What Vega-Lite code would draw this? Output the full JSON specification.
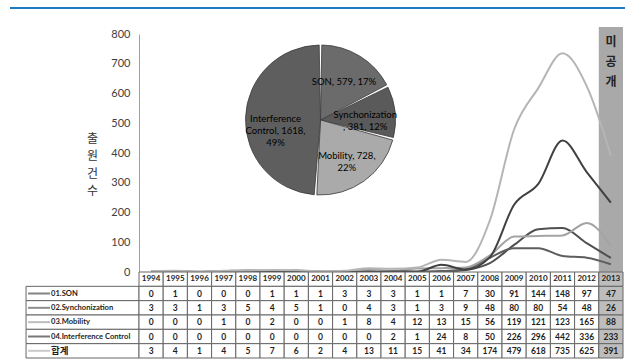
{
  "$schema": "https://vega.github.io/schema/vega-lite/v6.json",
  "padding": {"left": 10, "top": 5, "right": 5, "bottom": 0},
  "autosize": {"type": "pad"},
  "background": "white",
  "config": {
    "view": {"stroke": null},
    "font": "Lato"
  },
  "datasets": {
    "counts": [
      {"year": "1994", "series": "01.SON", "n": 0}, {"year": "1995", "series": "01.SON", "n": 1}, {"year": "1996", "series": "01.SON", "n": 0}, {"year": "1997", "series": "01.SON", "n": 0}, {"year": "1998", "series": "01.SON", "n": 0},
      {"year": "1999", "series": "01.SON", "n": 1}, {"year": "2000", "series": "01.SON", "n": 1}, {"year": "2001", "series": "01.SON", "n": 1}, {"year": "2002", "series": "01.SON", "n": 3}, {"year": "2003", "series": "01.SON", "n": 3},
      {"year": "2004", "series": "01.SON", "n": 3}, {"year": "2005", "series": "01.SON", "n": 1}, {"year": "2006", "series": "01.SON", "n": 1}, {"year": "2007", "series": "01.SON", "n": 7}, {"year": "2008", "series": "01.SON", "n": 30},
      {"year": "2009", "series": "01.SON", "n": 91}, {"year": "2010", "series": "01.SON", "n": 144}, {"year": "2011", "series": "01.SON", "n": 148}, {"year": "2012", "series": "01.SON", "n": 97}, {"year": "2013", "series": "01.SON", "n": 47},
      {"year": "1994", "series": "02.Synchonization", "n": 3}, {"year": "1995", "series": "02.Synchonization", "n": 3}, {"year": "1996", "series": "02.Synchonization", "n": 1}, {"year": "1997", "series": "02.Synchonization", "n": 3}, {"year": "1998", "series": "02.Synchonization", "n": 5},
      {"year": "1999", "series": "02.Synchonization", "n": 4}, {"year": "2000", "series": "02.Synchonization", "n": 5}, {"year": "2001", "series": "02.Synchonization", "n": 1}, {"year": "2002", "series": "02.Synchonization", "n": 0}, {"year": "2003", "series": "02.Synchonization", "n": 4},
      {"year": "2004", "series": "02.Synchonization", "n": 3}, {"year": "2005", "series": "02.Synchonization", "n": 1}, {"year": "2006", "series": "02.Synchonization", "n": 3}, {"year": "2007", "series": "02.Synchonization", "n": 9}, {"year": "2008", "series": "02.Synchonization", "n": 48},
      {"year": "2009", "series": "02.Synchonization", "n": 80}, {"year": "2010", "series": "02.Synchonization", "n": 80}, {"year": "2011", "series": "02.Synchonization", "n": 54}, {"year": "2012", "series": "02.Synchonization", "n": 48}, {"year": "2013", "series": "02.Synchonization", "n": 26},
      {"year": "1994", "series": "03.Mobility", "n": 0}, {"year": "1995", "series": "03.Mobility", "n": 0}, {"year": "1996", "series": "03.Mobility", "n": 0}, {"year": "1997", "series": "03.Mobility", "n": 1}, {"year": "1998", "series": "03.Mobility", "n": 0},
      {"year": "1999", "series": "03.Mobility", "n": 2}, {"year": "2000", "series": "03.Mobility", "n": 0}, {"year": "2001", "series": "03.Mobility", "n": 0}, {"year": "2002", "series": "03.Mobility", "n": 1}, {"year": "2003", "series": "03.Mobility", "n": 8},
      {"year": "2004", "series": "03.Mobility", "n": 4}, {"year": "2005", "series": "03.Mobility", "n": 12}, {"year": "2006", "series": "03.Mobility", "n": 13}, {"year": "2007", "series": "03.Mobility", "n": 15}, {"year": "2008", "series": "03.Mobility", "n": 56},
      {"year": "2009", "series": "03.Mobility", "n": 119}, {"year": "2010", "series": "03.Mobility", "n": 121}, {"year": "2011", "series": "03.Mobility", "n": 123}, {"year": "2012", "series": "03.Mobility", "n": 165}, {"year": "2013", "series": "03.Mobility", "n": 88},
      {"year": "1994", "series": "04.Interference Control", "n": 0}, {"year": "1995", "series": "04.Interference Control", "n": 0}, {"year": "1996", "series": "04.Interference Control", "n": 0}, {"year": "1997", "series": "04.Interference Control", "n": 0}, {"year": "1998", "series": "04.Interference Control", "n": 0},
      {"year": "1999", "series": "04.Interference Control", "n": 0}, {"year": "2000", "series": "04.Interference Control", "n": 0}, {"year": "2001", "series": "04.Interference Control", "n": 0}, {"year": "2002", "series": "04.Interference Control", "n": 0}, {"year": "2003", "series": "04.Interference Control", "n": 0},
      {"year": "2004", "series": "04.Interference Control", "n": 2}, {"year": "2005", "series": "04.Interference Control", "n": 1}, {"year": "2006", "series": "04.Interference Control", "n": 24}, {"year": "2007", "series": "04.Interference Control", "n": 8}, {"year": "2008", "series": "04.Interference Control", "n": 50},
      {"year": "2009", "series": "04.Interference Control", "n": 226}, {"year": "2010", "series": "04.Interference Control", "n": 296}, {"year": "2011", "series": "04.Interference Control", "n": 442}, {"year": "2012", "series": "04.Interference Control", "n": 336}, {"year": "2013", "series": "04.Interference Control", "n": 233},
      {"year": "1994", "series": "합계", "n": 3}, {"year": "1995", "series": "합계", "n": 4}, {"year": "1996", "series": "합계", "n": 1}, {"year": "1997", "series": "합계", "n": 4}, {"year": "1998", "series": "합계", "n": 5},
      {"year": "1999", "series": "합계", "n": 7}, {"year": "2000", "series": "합계", "n": 6}, {"year": "2001", "series": "합계", "n": 2}, {"year": "2002", "series": "합계", "n": 4}, {"year": "2003", "series": "합계", "n": 13},
      {"year": "2004", "series": "합계", "n": 11}, {"year": "2005", "series": "합계", "n": 15}, {"year": "2006", "series": "합계", "n": 41}, {"year": "2007", "series": "합계", "n": 34}, {"year": "2008", "series": "합계", "n": 174},
      {"year": "2009", "series": "합계", "n": 479}, {"year": "2010", "series": "합계", "n": 618}, {"year": "2011", "series": "합계", "n": 735}, {"year": "2012", "series": "합계", "n": 625}, {"year": "2013", "series": "합계", "n": 391}
    ],
    "years": [
      {"year": "1994"}, {"year": "1995"}, {"year": "1996"}, {"year": "1997"}, {"year": "1998"}, {"year": "1999"}, {"year": "2000"},
      {"year": "2001"}, {"year": "2002"}, {"year": "2003"}, {"year": "2004"}, {"year": "2005"}, {"year": "2006"}, {"year": "2007"},
      {"year": "2008"}, {"year": "2009"}, {"year": "2010"}, {"year": "2011"}, {"year": "2012"}, {"year": "2013"}
    ],
    "seriesNames": [
      {"series": "01.SON", "label": "01.SON"},
      {"series": "02.Synchonization", "label": "02.Synchonization"},
      {"series": "03.Mobility", "label": "03.Mobility"},
      {"series": "04.Interference Control", "label": "04.Interference Control"}
    ],
    "totalName": [
      {"series": "합계", "label": "합계"}
    ],
    "share": [
      {"topic": "SON", "n": 579, "k": 1, "label": "SON, 579, 17%"},
      {"topic": "Synchonization", "n": 381, "k": 2, "label": ["Synchonization", ", 381, 12%"]},
      {"topic": "Mobility", "n": 728, "k": 3, "label": ["Mobility, 728,", "22%"]},
      {"topic": "Interference Control", "n": 1618, "k": 4, "label": ["Interference", "Control,  1618,", "49%"]}
    ]
  },
  "vconcat": [
    {
      "width": 615,
      "height": 2,
      "view": {"fill": "#1a7bc1", "stroke": null},
      "data": {"values": [{}]},
      "mark": {"type": "point", "opacity": 0},
      "encoding": {}
    },
    {
      "columns": 2,
      "spacing": 0,
      "bounds": "flush",
      "concat": [
        {
          "width": 129,
          "height": 238,
          "data": {"values": [{}]},
          "mark": {"type": "point", "opacity": 0},
          "encoding": {}
        },
        {
          "width": 484,
          "height": 238,
          "resolve": {"axis": {"y": "independent"}},
          "encoding": {
            "x": {
              "field": "year",
              "type": "ordinal",
              "scale": {
                "type": "band",
                "domain": ["1994", "1995", "1996", "1997", "1998", "1999", "2000", "2001", "2002", "2003", "2004", "2005", "2006", "2007", "2008", "2009", "2010", "2011", "2012", "2013"],
                "paddingInner": 0,
                "paddingOuter": 0
              },
              "axis": null
            }
          },
          "layer": [
            {
              "data": {"values": [{"year": "2013"}]},
              "mark": {"type": "rect", "color": "#a9a9a9", "y": -7, "y2": 238}
            },
            {
              "data": {"name": "counts"},
              "mark": {"type": "line", "interpolate": "monotone"},
              "encoding": {
                "y": {
                  "field": "n",
                  "type": "quantitative",
                  "scale": {"domain": [0, 800], "nice": false},
                  "axis": {
                    "orient": "left",
                    "values": [0, 200, 400, 600, 800],
                    "labelOverlap": false,
                    "ticks": false,
                    "grid": false,
                    "labelPadding": 9,
                    "labelFont": "Lato",
                    "labelFontSize": 11,
                    "labelColor": "#404040",
                    "domainColor": "#a0a0a0",
                    "title": ["출", "원", "건", "수"],
                    "titleAngle": 0,
                    "titleX": -47,
                    "titleY": 99,
                    "titleAlign": "center",
                    "titleBaseline": "top",
                    "titleFont": "Noto Sans CJK KR",
                    "titleFontSize": 12,
                    "titleFontWeight": "normal",
                    "titleLineHeight": 17.5,
                    "titleColor": "#333333"
                  }
                },
                "stroke": {
                  "field": "series",
                  "type": "nominal",
                  "scale": {
                    "domain": ["01.SON", "02.Synchonization", "03.Mobility", "04.Interference Control", "합계"],
                    "range": ["#505050", "#5e5e5e", "#a3a3a3", "#404040", "#b5b5b5"]
                  },
                  "legend": null
                },
                "strokeWidth": {
                  "field": "series",
                  "type": "nominal",
                  "scale": {
                    "domain": ["01.SON", "02.Synchonization", "03.Mobility", "04.Interference Control", "합계"],
                    "range": [2, 2, 2, 2.5, 2.5]
                  },
                  "legend": null
                }
              }
            },
            {
              "data": {"name": "counts"},
              "mark": {"type": "point", "opacity": 0},
              "encoding": {
                "y": {
                  "field": "n",
                  "type": "quantitative",
                  "axis": {
                    "orient": "left",
                    "values": [100, 300, 500, 700],
                    "labelOverlap": false,
                    "ticks": false,
                    "grid": false,
                    "domain": false,
                    "labelPadding": 9,
                    "labelFont": "Lato",
                    "labelFontSize": 11,
                    "labelColor": "#404040",
                    "title": null
                  }
                }
              }
            },
            {
              "data": {"values": [{"year": "2013"}]},
              "mark": {"type": "text", "text": ["미", "공", "개"], "font": "Noto Sans CJK KR", "fontSize": 12, "fontWeight": "bold", "color": "#222222", "baseline": "top", "lineHeight": 20, "y": 3}
            },
            {
              "data": {"name": "share"},
              "mark": {"type": "arc", "outerRadius": 75, "padAngle": 0.035, "stroke": "#3a3a3a", "strokeWidth": 0.8, "yOffset": -33},
              "encoding": {
                "x": {"datum": "2001", "type": "ordinal"},
                "theta": {"field": "n", "type": "quantitative", "stack": true},
                "order": {"field": "k", "type": "quantitative"},
                "fill": {
                  "field": "topic",
                  "type": "nominal",
                  "scale": {
                    "domain": ["SON", "Synchonization", "Mobility", "Interference Control"],
                    "range": ["#6b6b6b", "#5a5a5a", "#aaaaaa", "#5e5e5e"]
                  },
                  "legend": null
                }
              }
            },
            {
              "data": {"name": "share"},
              "mark": {"type": "text", "radius": 45, "font": "Lato", "fontSize": 9.5, "color": "#000000", "lineHeight": 12, "yOffset": -33},
              "encoding": {
                "x": {"datum": "2001", "type": "ordinal"},
                "theta": {"field": "n", "type": "quantitative", "stack": true},
                "order": {"field": "k", "type": "quantitative"},
                "text": {"field": "label"}
              }
            }
          ]
        },
        {
          "width": 129,
          "height": 86,
          "encoding": {
            "y": {
              "field": "series",
              "type": "nominal",
              "scale": {"type": "band", "domain": ["hdr", "01.SON", "02.Synchonization", "03.Mobility", "04.Interference Control", "합계"], "paddingInner": 0, "paddingOuter": 0},
              "axis": null
            }
          },
          "layer": [
            {
              "data": {"name": "counts"},
              "transform": [{"filter": "datum.year === '1994'"}],
              "mark": {"type": "rect", "fill": "white", "stroke": "#666666", "strokeWidth": 1},
              "encoding": {
                "x": {"datum": "label", "type": "nominal", "scale": {"type": "band", "domain": ["label"], "paddingInner": 0, "paddingOuter": 0.071, "align": 1}, "axis": null}
              }
            },
            {
              "data": {"name": "counts"},
              "transform": [{"filter": "datum.year === '1994'"}],
              "mark": {"type": "point", "shape": "M-1,0L1,0", "filled": false, "size": 484, "xOffset": 13},
              "encoding": {
                "x": {"datum": "label", "type": "nominal", "bandPosition": 0},
                "stroke": {
                  "field": "series",
                  "type": "nominal",
                  "scale": {
                    "domain": ["01.SON", "02.Synchonization", "03.Mobility", "04.Interference Control", "합계"],
                    "range": ["#3c3c3c", "#404040", "#8c8c8c", "#3a3a3a", "#b0b0b0"]
                  },
                  "legend": null
                },
                "strokeWidth": {
                  "field": "series",
                  "type": "nominal",
                  "scale": {
                    "domain": ["01.SON", "02.Synchonization", "03.Mobility", "04.Interference Control", "합계"],
                    "range": [2, 1.6, 1.4, 2, 2]
                  },
                  "legend": null
                }
              }
            },
            {
              "data": {"name": "seriesNames"},
              "mark": {"type": "text", "align": "left", "dx": 25, "font": "Lato", "fontSize": 7.6, "fontWeight": "bold", "color": "#1e1e1e"},
              "encoding": {
                "x": {"datum": "label", "type": "nominal", "bandPosition": 0},
                "text": {"field": "label"}
              }
            },
            {
              "data": {"name": "totalName"},
              "mark": {"type": "text", "align": "left", "dx": 25, "font": "Noto Sans CJK KR", "fontSize": 9.5, "fontWeight": "bold", "color": "#1e1e1e"},
              "encoding": {
                "x": {"datum": "label", "type": "nominal", "bandPosition": 0},
                "text": {"field": "label"}
              }
            }
          ]
        },
        {
          "width": 484,
          "height": 86,
          "layer": [
            {
              "data": {"name": "years"},
              "mark": {"type": "rect", "stroke": "#666666", "strokeWidth": 1},
              "encoding": {
                "x": {
                  "field": "year",
                  "type": "ordinal",
                  "scale": {"type": "band", "paddingInner": 0, "paddingOuter": 0},
                  "axis": null
                },
                "y": {
                  "datum": "hdr",
                  "type": "nominal",
                  "scale": {"type": "band", "domain": ["hdr", "01.SON", "02.Synchonization", "03.Mobility", "04.Interference Control", "합계"], "paddingInner": 0, "paddingOuter": 0},
                  "axis": null
                },
                "fill": {"condition": {"test": "datum.year === '2013'", "value": "#bdbdbd"}, "value": "white"}
              }
            },
            {
              "data": {"name": "counts"},
              "mark": {"type": "rect", "stroke": "#666666", "strokeWidth": 1},
              "encoding": {
                "x": {"field": "year", "type": "ordinal"},
                "y": {"field": "series", "type": "nominal"},
                "fill": {"condition": {"test": "datum.year === '2013'", "value": "#bdbdbd"}, "value": "white"}
              }
            },
            {
              "data": {"name": "years"},
              "mark": {"type": "text", "font": "Lato", "fontSize": 8, "fontWeight": "bold", "color": "#1e1e1e"},
              "encoding": {
                "x": {"field": "year", "type": "ordinal"},
                "y": {"datum": "hdr", "type": "nominal"},
                "text": {"field": "year"}
              }
            },
            {
              "data": {"name": "counts"},
              "mark": {"type": "text", "font": "Lato", "fontSize": 8.5, "fontWeight": "bold", "color": "#1e1e1e"},
              "encoding": {
                "x": {"field": "year", "type": "ordinal"},
                "y": {"field": "series", "type": "nominal"},
                "text": {"field": "n", "type": "quantitative"}
              }
            }
          ]
        }
      ]
    }
  ],
  "spacing": 25,
  "bounds": "flush"
}
